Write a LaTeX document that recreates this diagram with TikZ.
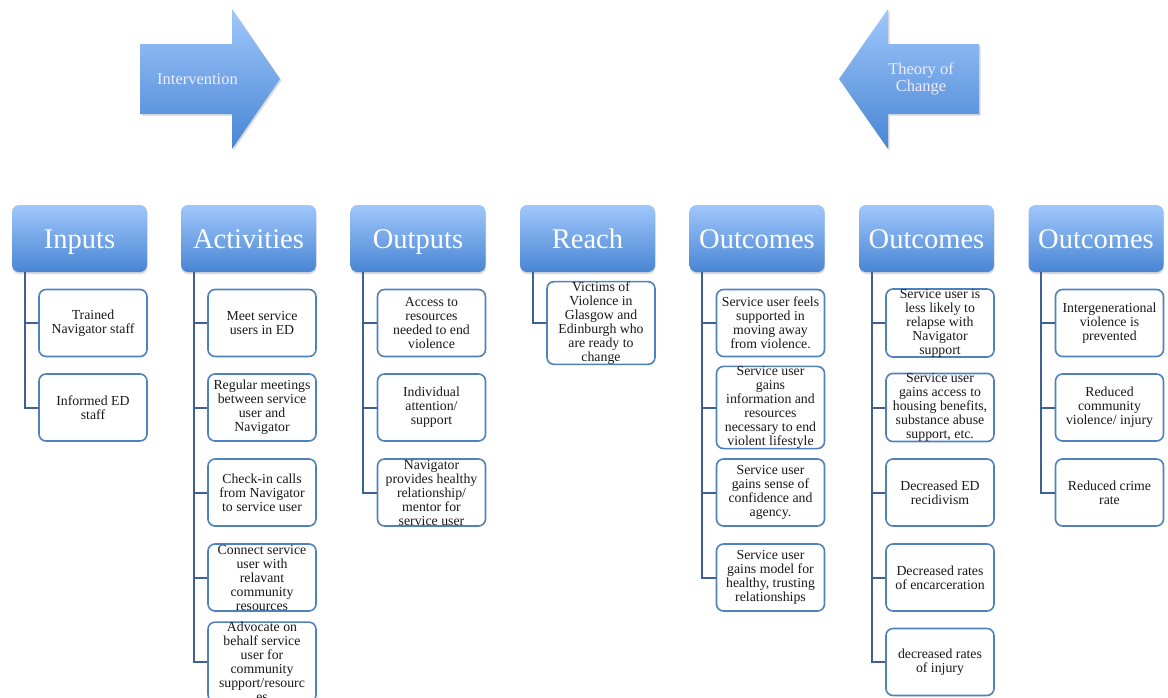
\documentclass[tikz,border=0pt]{standalone}
\usepackage{fontspec}
\setmainfont{Liberation Serif}
\usetikzlibrary{shadows}
\definecolor{toplight}{RGB}{160,199,251}
\definecolor{botdark}{RGB}{72,133,212}
\definecolor{edgec}{RGB}{79,129,189}
\definecolor{linec}{RGB}{62,96,146}
\begin{document}
\begin{tikzpicture}[x=1pt,y=-1pt,
  head/.style={rounded corners=7pt, minimum width=135pt, minimum height=67pt,
    top color=toplight, bottom color=botdark, text=white, inner sep=0pt,
    text height=19pt, text depth=0pt,
    font=\fontsize{28.5}{30}\selectfont,
    drop shadow={opacity=0.3, shadow xshift=0.5pt, shadow yshift=-2pt}},
  item/.style={rounded corners=7pt, minimum width=108pt, minimum height=67pt,
    draw=edgec, line width=1.6pt, fill=white, align=center, inner sep=0pt,
    font=\fontsize{13.8}{14}\selectfont, text=black!90},
  conn/.style={draw=linec, line width=2pt},
  bigarrow/.style={top color=toplight, bottom color=botdark,
    drop shadow={opacity=0.3, shadow xshift=1.5pt, shadow yshift=-1.5pt}},
  arrowtext/.style={text=white!93!blue, align=center, font=\fontsize{16.5}{17}\selectfont}
]
\useasboundingbox (0,0) rectangle (1168,697);

% big arrows
\path[bigarrow] (140,44) -- (232,44) -- (232,9) -- (280,79) -- (232,149) -- (232,114) -- (140,114) -- cycle;
\node[arrowtext] (interv) at (197.5,79) {Intervention};
\path[bigarrow] (979,44) -- (888,44) -- (888,9) -- (839,79) -- (888,149) -- (888,114) -- (979,114) -- cycle;
\node[arrowtext] (toc) at (921,79) {Theory of\\Change};

% headers
\node[head] (h1) at (79.5,238.5) {Inputs};
\node[head] (h2) at (248.5,238.5) {Activities};
\node[head] (h3) at (418,238.5) {Outputs};
\node[head] (h4) at (587.5,238.5) {Reach};
\node[head] (h5) at (757,238.5) {Outcomes};
\node[head] (h6) at (926.5,238.5) {Outcomes};
\node[head] (h7) at (1096,238.5) {Outcomes};

% Inputs
\node[item] (h1a) at (93,323) {Trained\\Navigator staff};
\node[item] (h1b) at (93,407.5) {Informed ED\\staff};
% Activities
\node[item] (h2a) at (262,323) {Meet service\\users in ED};
\node[item] (h2b) at (262,407.5) {Regular meetings\\between service\\user and\\Navigator};
\node[item] (h2c) at (262,492.5) {Check-in calls\\from Navigator\\to service user};
\node[item] (h2d) at (262,577.5) {Connect service\\user with\\relavant\\community\\resources};
\node[item] (h2e) at (262,662) {Advocate on\\behalf service\\user for\\community\\support/resourc\\es};
% Outputs
\node[item] (h3a) at (431.5,323) {Access to\\resources\\needed to end\\violence};
\node[item] (h3b) at (431.5,407.5) {Individual\\attention/\\support};
\node[item] (h3c) at (431.5,492.5) {Navigator\\provides healthy\\relationship/\\mentor for\\service user};
% Reach
\node[item] (h4a) at (601,323) {Victims of\\Violence in\\Glasgow and\\Edinburgh who\\are ready to\\change};
% Outcomes 1
\node[item] (h5a) at (770.5,323) {Service user feels\\supported in\\moving away\\from violence.};
\node[item] (h5b) at (770.5,407.5) {Service user\\gains\\information and\\resources\\necessary to end\\violent lifestyle};
\node[item] (h5c) at (770.5,492.5) {Service user\\gains sense of\\confidence and\\agency.};
\node[item] (h5d) at (770.5,577.5) {Service user\\gains model for\\healthy, trusting\\relationships};
% Outcomes 2
\node[item] (h6a) at (940,323) {Service user is\\less likely to\\relapse with\\Navigator\\support};
\node[item] (h6b) at (940,407.5) {Service user\\gains access to\\housing benefits,\\substance abuse\\support, etc.};
\node[item] (h6c) at (940,492.5) {Decreased ED\\recidivism};
\node[item] (h6d) at (940,577.5) {Decreased rates\\of encarceration};
\node[item] (h6e) at (940,662) {decreased rates\\of injury};
% Outcomes 3
\node[item] (h7a) at (1109.5,323) {Intergenerational\\violence is\\prevented};
\node[item] (h7b) at (1109.5,407.5) {Reduced\\community\\violence/ injury};
\node[item] (h7c) at (1109.5,492.5) {Reduced crime\\rate};

% connectors
\foreach \h/\list in {h1/{a,b}, h2/{a,b,c,d,e}, h3/{a,b,c}, h4/{a}, h5/{a,b,c,d}, h6/{a,b,c,d,e}, h7/{a,b,c}}{
  \foreach \c in \list {
    \draw[conn] ([xshift=13pt]\h.south west) |- (\h\c.west);
  }
}
\end{tikzpicture}
\end{document}
